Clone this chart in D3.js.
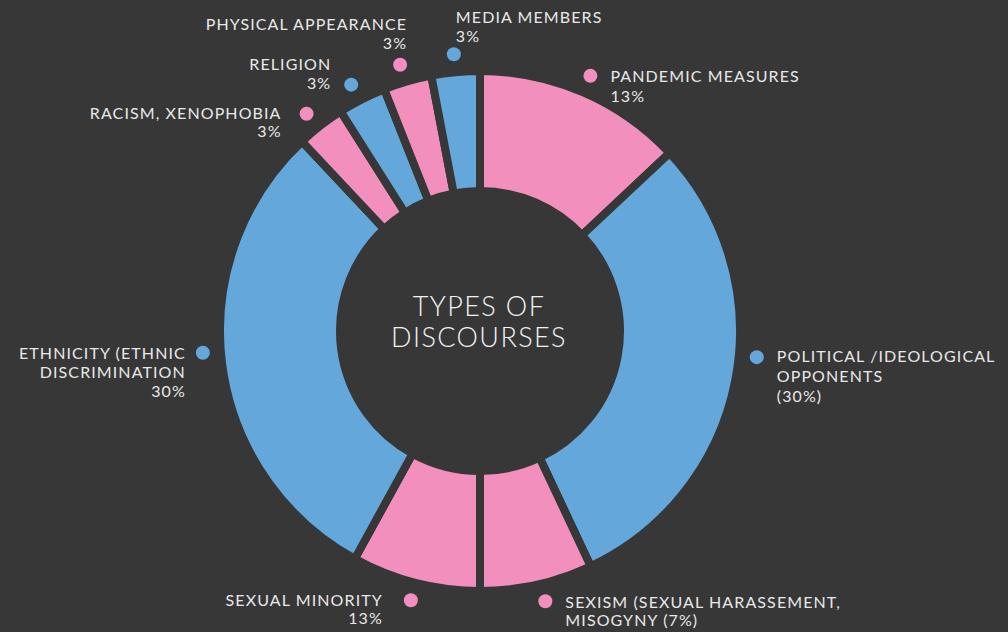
<!DOCTYPE html>
<html>
<head>
<meta charset="utf-8">
<script src="https://cdn.jsdelivr.net/npm/d3@7"></script>
<style>
  body { margin: 0; background: #373737; }
  svg { display: block; }
  text { font-family: Lato, "Open Sans", sans-serif; fill: #e8e8e8; }
</style>
</head>
<body>
<div id="chart"></div>
<script>
// valores de cada tipo de discurso (en el sentido de las agujas, desde arriba)
const categories = ["pandemic", "political", "sexism", "sexual", "ethnicity",
  "racism", "religion", "physical", "media"];
const values = [13, 30, 7, 8, 30, 3, 3, 3, 3];
const groups = ["pink", "blue", "pink", "pink", "blue", "pink", "blue", "pink", "blue"];
const labels = [
  ["PANDEMIC MEASURES", "13%"],
  ["POLITICAL /IDEOLOGICAL", "OPPONENTS", "(30%)"],
  ["SEXISM (SEXUAL HARASSEMENT,", "MISOGYNY (7%)"],
  ["SEXUAL MINORITY", "13%"],
  ["ETHNICITY (ETHNIC", "DISCRIMINATION", "30%"],
  ["RACISM, XENOPHOBIA", "3%"],
  ["RELIGION", "3%"],
  ["PHYSICAL APPEARANCE", "3%"],
  ["MEDIA MEMBERS", "3%"]
];
const title = ["TYPES OF", "DISCOURSES"];

// colocación de las etiquetas: giro del punto (grados), ancla, desplazamiento del texto
const labelLayout = [
  {rot: 0,    anchor: "start", dx: 20,  dy: 6,   lh: 20},
  {rot: -5.4, anchor: "start", dx: 20,  dy: 5,   lh: 20},
  {rot: -1,   anchor: "start", dx: 20,  dy: 7,   lh: 18},
  {rot: 0,    anchor: "end",   dx: -28, dy: 6,   lh: 18},
  {rot: 2.7,  anchor: "end",   dx: -17, dy: 6,   lh: 19},
  {rot: -0.8, anchor: "end",   dx: -25, dy: 5,   lh: 18},
  {rot: -0.6, anchor: "end",   dx: -20, dy: -15, lh: 19},
  {rot: -0.5, anchor: "end",   dx: 7,   dy: -35, lh: 19},
  {rot: 0,    anchor: "start", dx: 2,   dy: -31, lh: 19}
];

const width = 1008, height = 632;
const cx = 480, cy = 331;
const colors = d3.scaleOrdinal().domain(["pink", "blue"]).range(["#f28fbd", "#63a7db"]);
const bg = "#373737";

const svg = d3.select("#chart").append("svg")
  .attr("width", width).attr("height", height);
svg.append("rect").attr("width", width).attr("height", height).attr("fill", bg);

const g = svg.append("g").attr("transform", "translate(" + cx + "," + cy + ")");

const pie = d3.pie().sort(null).value(d => d);
const arcs = pie(values);
const arc = d3.arc().innerRadius(140).outerRadius(260);

g.selectAll("path.slice")
  .data(arcs)
  .enter()
  .append("path")
  .attr("class", "slice")
  .attr("d", arc)
  .attr("fill", (d, i) => colors(groups[i]))
  .attr("stroke", bg)
  .attr("stroke-width", 8)
  .attr("stroke-linejoin", "miter");

// etiquetas con su punto
const dotR = 278;
arcs.forEach(function(d, i){
  const lay = labelLayout[i];
  const a = (d.startAngle + d.endAngle) / 2 + lay.rot * Math.PI / 180;
  const x = Math.sin(a) * dotR, y = -Math.cos(a) * dotR;
  g.append("circle")
    .attr("cx", x).attr("cy", y).attr("r", 7)
    .attr("fill", colors(groups[i]));
  const t = g.append("text")
    .attr("text-anchor", lay.anchor)
    .style("font-size", "16px")
    .style("font-weight", 400)
    .style("letter-spacing", "1.1px");
  labels[i].forEach(function(line, j){
    t.append("tspan")
      .attr("x", x + lay.dx)
      .attr("y", y + lay.dy + j * lay.lh)
      .text(line);
  });
});

// título central
const tt = g.append("text")
  .attr("text-anchor", "middle")
  .style("font-size", "27px")
  .style("font-weight", 300)
  .style("letter-spacing", "1.4px")
  .style("fill", "#f2f2f2");
title.forEach(function(line, j){
  tt.append("tspan").attr("x", -1).attr("y", -15 + j * 31).text(line);
});
</script>
</body>
</html>
